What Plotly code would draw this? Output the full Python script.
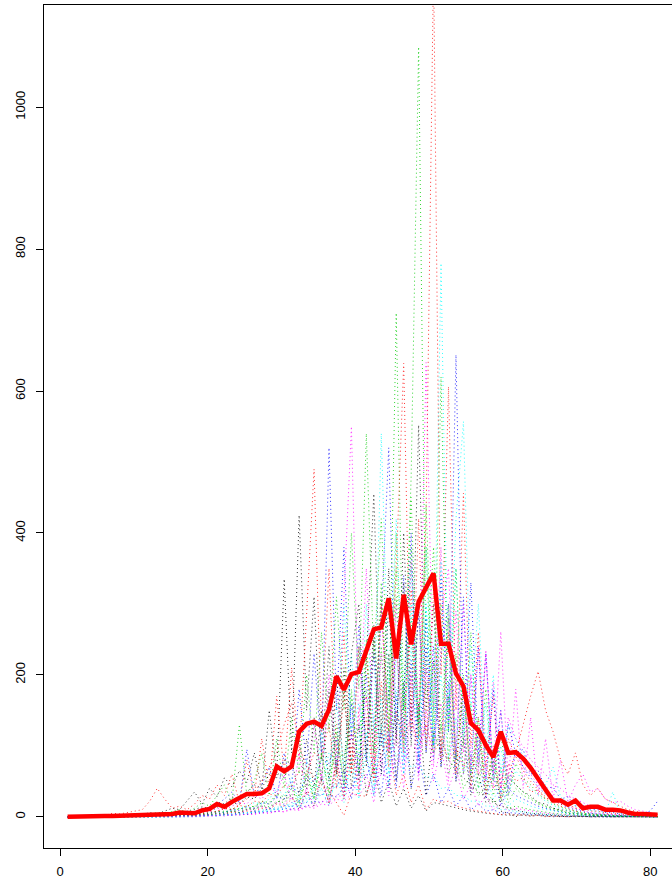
import numpy as np
import plotly.graph_objects as go

# x positions: 80 observations spread over 1..81
x_vals = list(np.linspace(1, 81, 80))

mean_line = [0, 0.5, 1, 1, 1, 1, 1, 1.5, 2, 2,
             2, 3, 4, 3, 4, 6, 6, 5, 9, 11,
             18, 14, 21, 26, 32, 32, 33, 40, 71, 64,
             71, 120, 131, 134, 128, 151, 198, 179, 201, 204,
             235, 264, 267, 308, 223, 313, 243, 303, 323, 343,
             244, 244, 202, 184, 132, 122, 101, 84, 120, 90,
             91, 82, 69, 52, 38, 23, 23, 17, 23, 12,
             14, 14, 10, 10, 9, 6, 4, 4, 4, 3]

s01 = [0,0,1,2,1,0,3,2,1,4, 3,6,4,8,12,10,22,35,18,40, 28,55,42,65,48,90,40,150,60,335,
       90,425,150,310,80,240,60,180,40,130, 30,70,20,50,15,40,12,30,8,20,
       18,15,12,10,8,6,5,4,3,2, 3,2,1,2,1,0,1,0,1,0, 0,1,0,0,1,0,0,0,0,0]
s02 = [0,1,0,2,3,2,5,4,6,8, 10,22,40,25,12,15,10,18,30,25, 45,30,60,20,80,30,110,40,170,60,
       210,80,280,490,120,350,90,260,60,150, 170,50,90,110,30,60,20,45,10,25,
       20,22,15,12,10,8,6,5,3,4, 2,3,1,2,0,1,0,0,1,0, 0,0,1,0,0,0,0,0,0,0]
s03 = [0,0,1,0,1,2,1,2,3,2, 4,3,6,5,8,10,7,12,20,15, 30,45,20,130,30,50,90,30,110,40,
       140,60,200,90,260,120,310,150,400,180, 540,220,420,160,350,140,280,110,190,90,
       130,60,90,40,60,30,40,20,25,12, 15,12,10,8,6,5,4,3,2,2, 1,1,2,1,0,1,0,0,0,0]
s04 = [0,0,0,1,0,1,2,1,1,2, 2,3,2,4,5,4,8,6,12,10, 18,25,35,20,95,30,45,70,25,90,
       40,180,70,230,90,520,150,380,110,270, 80,230,60,180,50,140,40,90,30,60,
       20,40,15,30,10,18,8,10,5,6, 5,4,3,2,2,1,1,0,1,0, 0,0,0,1,0,0,0,0,0,0]
s05 = [0,0,0,0,1,0,0,1,0,1, 1,2,1,2,3,2,4,3,5,6, 8,6,10,12,15,20,18,25,40,30,
       55,20,80,30,120,50,160,70,230,90, 300,120,540,180,420,150,350,130,300,100,
       200,80,140,60,90,40,60,25,40,15, 25,20,15,12,10,8,6,4,3,2, 2,1,2,1,1,0,1,0,0,0]
s06 = [0,0,1,0,0,1,0,1,2,1, 2,1,3,2,4,5,3,6,8,7, 12,10,15,20,18,30,25,40,35,60,
       20,90,30,130,50,200,70,300,550,120, 350,110,300,90,250,80,200,60,150,50,
       100,40,70,25,45,15,30,10,18,8, 12,10,8,6,5,4,3,2,2,1, 1,1,0,1,0,0,0,0,0,0]
s07 = [0,0,0,0,0,1,0,0,1,0, 1,0,1,2,1,2,3,2,4,3, 5,4,8,6,10,12,15,12,20,25,
       30,10,35,15,55,20,80,30,120,50, 220,455,120,350,100,400,140,552,150,300,
       90,280,70,180,50,120,30,80,20,55, 45,35,30,20,18,12,10,8,5,4, 3,2,2,1,1,0,1,0,0,0]
s08 = [0,0,1,0,0,0,1,0,0,1, 0,1,2,1,3,2,4,3,6,5, 8,12,10,18,25,35,50,70,90,130,
       160,100,70,55,45,38,20,2,34,30, 29,76,120,90,150,110,140,100,130,90,
       110,80,95,70,85,60,75,40,55,60, 90,130,170,205,150,120,80,60,90,45, 30,40,25,20,15,10,8,5,4,3]
s09 = [0,0,0,1,0,0,1,0,0,1, 0,1,1,0,2,1,3,2,4,5, 6,8,7,12,10,15,20,18,30,25,
       40,15,60,25,90,30,120,45,170,60, 230,90,310,120,400,150,480,1085,200,380,
       120,300,80,200,60,140,40,90,25,60, 45,35,28,20,15,12,9,6,5,3, 2,2,1,1,1,0,0,1,0,0]
s10 = [0,0,0,0,1,0,0,0,1,0, 1,1,0,2,1,3,2,4,3,5, 7,6,10,9,14,12,20,18,28,25,
       40,35,55,50,80,75,110,40,160,60, 200,90,280,520,120,340,110,290,90,240,
       70,190,50,130,35,90,25,60,15,40, 30,25,20,15,12,9,7,5,4,3, 2,2,1,1,1,0,0,0,0,0]
s11 = [0,0,0,0,0,0,1,0,0,0, 1,0,1,1,0,2,1,2,3,2, 4,3,5,6,5,8,10,9,14,12,
       20,18,28,25,40,15,60,20,85,30, 120,40,170,60,230,80,300,100,380,150,
       780,140,350,110,240,80,160,50,100,30, 65,50,40,30,22,16,12,9,6,5, 4,3,3,2,2,1,1,1,0,0]
s12 = [0,0,0,1,0,0,0,0,1,0, 0,1,0,1,2,1,2,3,2,4, 5,4,7,6,10,9,14,12,20,18,
       28,10,40,15,60,20,85,30,120,40, 170,60,230,90,300,110,360,130,640,150,
       380,120,290,90,200,60,230,40,150,30, 90,70,60,45,35,28,20,15,12,9, 6,5,4,3,2,2,1,1,1,0]
s13 = [0,1,0,0,1,2,1,0,2,1, 3,2,4,3,5,8,6,10,14,12, 20,18,28,25,35,45,40,60,55,80,
       75,110,40,140,50,180,60,210,70,240, 90,270,100,300,110,330,100,300,90,220,
       70,170,50,110,30,60,20,25,8,5, 0,4,2,3,1,2,0,1,0,1, 0,0,1,0,0,0,0,0,0,0]
s14 = [0,0,0,0,0,1,0,0,0,1, 0,0,1,0,1,1,2,1,3,2, 4,3,6,5,8,7,12,10,18,15,
       25,22,35,32,50,20,70,25,100,35, 140,50,190,70,250,90,320,110,420,1200,
       200,606,150,456,100,260,70,170,40,110, 85,65,50,38,28,20,15,11,8,6, 4,3,3,2,2,1,1,1,0,0]
s15 = [0,0,0,0,1,0,0,1,0,0, 1,0,2,1,2,3,2,4,5,4, 8,6,12,10,16,14,22,20,32,28,
       45,20,65,25,90,35,130,45,180,60, 250,90,330,120,710,150,450,130,380,100,
       300,80,230,60,160,40,110,30,70,20, 40,30,25,18,14,10,8,5,4,3, 2,2,1,1,1,0,0,0,0,0]
s16 = [0,0,0,0,0,0,0,1,0,0, 0,1,0,1,1,0,2,1,2,3, 2,4,3,6,5,8,7,12,10,16,
       14,22,20,32,30,45,42,65,25,90, 85,30,120,40,170,60,220,80,280,100,
       340,120,651,130,330,90,230,60,150,40, 95,70,55,42,32,24,18,13,10,7, 5,4,3,2,2,1,1,1,0,0]
s17 = [0,0,0,0,0,0,0,0,1,0, 0,0,1,0,1,1,0,2,1,2, 3,2,4,3,6,5,8,7,11,10,
       16,14,22,20,32,30,45,42,65,25, 90,30,130,45,180,60,240,80,300,100,
       360,120,420,557,150,300,90,200,60,130, 110,85,75,55,45,70,28,20,16,12, 9,7,5,35,3,2,2,1,1,1]
s18 = [0,0,0,0,0,0,1,0,0,0, 1,0,0,1,0,1,1,0,2,1, 2,3,2,4,3,5,6,5,8,7,
       10,9,14,12,18,16,25,22,32,30, 45,40,60,55,80,75,100,95,130,120,
       160,50,190,60,200,70,235,60,261,50, 180,40,140,30,110,25,80,20,45,60, 35,40,25,20,22,15,10,8,6,4]
s19 = [0,0,1,0,0,1,0,1,0,2, 1,2,3,2,4,3,6,5,9,8, 14,12,20,18,28,25,40,38,60,55,
       80,30,110,40,150,50,200,60,230,300, 70,250,60,230,50,190,40,160,30,120,
       90,80,65,55,45,35,28,20,15,12, 9,7,5,4,3,2,2,1,1,0, 1,0,0,0,0,0,0,0,0,0]
s20 = [0,0,0,1,0,0,1,0,1,0, 1,2,1,2,3,2,4,5,4,8, 7,12,10,16,14,22,20,32,30,45,
       42,65,60,90,85,130,40,180,60,240, 230,80,300,100,350,639,120,420,100,320,
       80,260,60,190,40,140,30,100,25,75, 50,55,35,38,25,26,17,18,12,12, 8,8,5,5,3,3,2,2,1,1]
s21 = [0,0,0,0,0,1,0,0,0,0, 1,0,1,0,1,2,1,2,3,2, 5,4,8,6,12,10,16,14,22,20,
       32,30,45,42,65,60,90,85,130,120, 180,60,240,80,310,100,380,120,440,130,
       620,120,350,100,260,70,180,50,120,30, 75,55,45,32,25,18,14,10,8,5, 4,3,2,2,1,1,1,0,0,0]
s22 = [0,0,0,0,0,0,0,0,0,1, 0,0,1,0,0,1,0,1,1,2, 1,3,2,4,3,6,5,8,7,12,
       10,16,14,22,20,30,28,42,40,60, 55,85,30,120,40,170,400,60,240,80,
       230,300,80,310,60,240,50,180,30,130, 90,95,60,65,40,42,25,28,15,16, 10,10,6,6,4,4,3,5,8,22]
s23 = [0,0,0,0,0,0,0,0,0,0, 0,1,0,0,1,0,1,1,0,2, 1,3,2,5,4,8,6,12,10,18,
       15,28,25,45,40,90,70,300,120,160, 110,140,100,120,85,95,70,75,55,58,
       40,42,30,30,22,22,15,15,10,10, 7,7,5,5,3,3,2,2,1,1, 1,1,0,0,0,0,0,0,0,0]
s24 = [0,0,0,0,0,0,0,0,0,0, 0,0,0,1,0,0,1,0,1,1, 2,1,3,2,4,3,6,5,8,7,
       12,10,16,14,22,20,30,28,42,40, 60,20,85,30,120,40,160,50,210,70,
       280,350,90,300,70,240,50,190,40,140, 110,100,80,70,60,45,40,30,25,20, 15,12,10,8,6,5,4,3,2,2]

series = [s01, s02, s03, s04, s05, s06, s07, s08, s09, s10, s11, s12,
          s13, s14, s15, s16, s17, s18, s19, s20, s21, s22, s23, s24]
palette = ["black", "red", "#00CD00", "blue", "cyan", "magenta"]

for s in series:
    assert len(s) == 80, len(s)
assert len(mean_line) == 80

fig = go.Figure()
for k, s in enumerate(series):
    fig.add_trace(go.Scatter(
        x=x_vals, y=s, mode="lines",
        line=dict(color=palette[k % 6], width=1, dash="1px,3px"),
        opacity=0.8, hoverinfo="skip", showlegend=False))

fig.add_trace(go.Scatter(
    x=x_vals, y=mean_line, mode="lines",
    line=dict(color="#FF0000", width=4.5),
    hoverinfo="skip", showlegend=False))

font = dict(family="Liberation Sans, Arial, Helvetica, sans-serif", size=13, color="black")
fig.update_layout(
    width=672, height=884,
    margin=dict(l=44, r=0, t=5, b=36),
    paper_bgcolor="white", plot_bgcolor="white",
    showlegend=False,
    font=font,
)
fig.update_xaxes(
    range=[-2.2, 82.95], tickvals=[0, 20, 40, 60, 80],
    showline=True, linecolor="black", linewidth=1, mirror=True,
    ticks="outside", ticklen=7, tickcolor="black", tickwidth=1,
    showgrid=False, zeroline=False, tickfont=font, ticklabelstandoff=4,
)
fig.update_yaxes(
    range=[-44, 1144], tickvals=[0, 200, 400, 600, 800, 1000],
    showline=True, linecolor="black", linewidth=1, mirror=False,
    ticks="outside", ticklen=7, tickcolor="black", tickwidth=1,
    showgrid=False, zeroline=False, tickfont=font, tickangle=-90,
    ticklabelstandoff=6,
)
fig.write_html(
    "out.html",
    config={"displayModeBar": False},
    post_script="document.body.style.margin='0';document.body.style.overflow='hidden';",
)
